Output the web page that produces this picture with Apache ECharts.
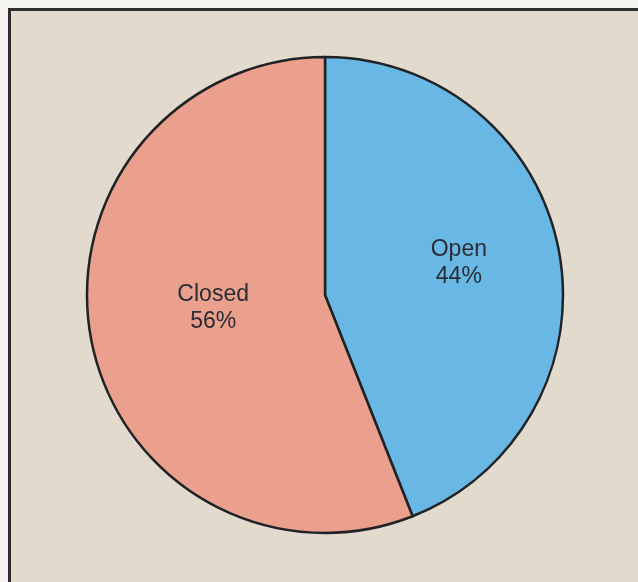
<!DOCTYPE html>
<html>
<head>
<meta charset="utf-8">
<script src="https://cdn.jsdelivr.net/npm/echarts@6/dist/echarts.min.js"></script>
<style>
  html, body { margin: 0; padding: 0; background: #f6f4f0; }
  #chart { width: 638px; height: 582px; }
</style>
</head>
<body>
<div id="chart"></div>
<script>
// Share of sites by status
const categories = ['Open', 'Closed'];
const shares = [44, 56];
const sliceColors = ['#68b7e4', '#eba08d'];
// Fine placement of each slice's label relative to its default inside spot
const labelOffsets = [[14, -9], [8, -10]];

const chart = echarts.init(document.getElementById('chart'), null, { renderer: 'canvas' });

const data = categories.map((name, i) => ({
  name: name,
  value: shares[i],
  itemStyle: { color: sliceColors[i] },
  label: { offset: labelOffsets[i] }
}));

chart.setOption({
  animation: false,
  backgroundColor: '#f6f4f0',
  graphic: [{
    type: 'rect',
    z: -10,
    shape: { x: 9.5, y: 9.5, width: 700, height: 700 },
    style: { fill: '#e1dacd', stroke: '#2e2e2e', lineWidth: 3 }
  }],
  series: [{
    type: 'pie',
    center: [325, 295],
    radius: 238,
    startAngle: 90,
    clockwise: true,
    data: data,
    itemStyle: { borderColor: '#1f2326', borderWidth: 2.5 },
    label: {
      show: true,
      position: 'inside',
      formatter: '{b}\n{c}%',
      color: '#2a2c36',
      fontFamily: 'Liberation Sans, Arial, sans-serif',
      fontSize: 23,
      lineHeight: 27,
      align: 'center'
    },
    labelLine: { show: false },
    emphasis: { disabled: true }
  }]
});
</script>
</body>
</html>
